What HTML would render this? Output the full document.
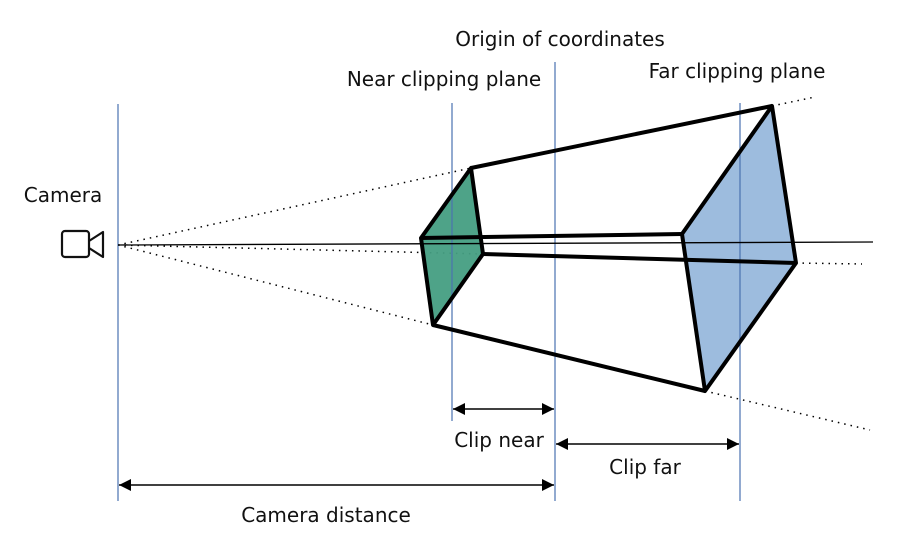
<!DOCTYPE html>
<html><head><meta charset="utf-8"><style>
html,body{margin:0;padding:0;background:#fff;}
svg{display:block;}
text{font-family:"DejaVu Sans","Liberation Sans",sans-serif;font-size:20px;fill:#111;}
</style></head><body>
<svg width="917" height="540" viewBox="0 0 917 540">
<defs>
<marker id="ah" viewBox="0 0 10 10" refX="10" refY="5" markerWidth="12" markerHeight="12" markerUnits="userSpaceOnUse" orient="auto-start-reverse"><path d="M0,0 L10,5 L0,10 z" fill="#000"/></marker>
</defs>
<g stroke="#000" stroke-width="1.5" stroke-dasharray="1.5 5" fill="none">
<line x1="118" y1="245" x2="471" y2="168"/>
<line x1="772" y1="106" x2="815" y2="97"/>
<line x1="118" y1="245" x2="483" y2="254"/>
<line x1="796" y1="263" x2="862" y2="264"/>
<line x1="118" y1="245" x2="433" y2="325"/>
<line x1="705" y1="391" x2="870" y2="430"/>
</g>
<polygon points="421,238 471,168 483,254 433,325" fill="#459e82" fill-opacity="0.95"/>
<polygon points="682,234 772,106 796,263 705,391" fill="#98b8dc" fill-opacity="0.95"/>
<g stroke="#4a72b0" stroke-width="1.2">
<line x1="118" y1="104" x2="118" y2="501"/>
<line x1="452" y1="103" x2="452" y2="421"/>
<line x1="555" y1="62" x2="555" y2="501"/>
<line x1="740" y1="103" x2="740" y2="501"/>
</g>
<line x1="118" y1="245" x2="873" y2="242" stroke="#000" stroke-width="1.3"/>
<g stroke="#000" stroke-width="4" stroke-linejoin="round" fill="none">
<polygon points="421,238 471,168 483,254 433,325"/>
<polygon points="682,234 772,106 796,263 705,391"/>
<line x1="471" y1="168" x2="772" y2="106"/>
<line x1="421" y1="238" x2="682" y2="234"/>
<line x1="483" y1="254" x2="796" y2="263"/>
<line x1="433" y1="325" x2="705" y2="391"/>
</g>
<g stroke="#111" stroke-width="2.2" fill="none" stroke-linejoin="round">
<rect x="62" y="231" width="27" height="26" rx="3"/>
<path d="M89,241 L103,232 L103,257 L89,248"/>
</g>
<g stroke="#000" stroke-width="1.5">
<line x1="453" y1="409" x2="554" y2="409" marker-start="url(#ah)" marker-end="url(#ah)"/>
<line x1="556" y1="444" x2="739" y2="444" marker-start="url(#ah)" marker-end="url(#ah)"/>
<line x1="119" y1="485" x2="554" y2="485" marker-start="url(#ah)" marker-end="url(#ah)"/>
</g>
<text x="560" y="46" text-anchor="middle">Origin of coordinates</text>
<text x="444" y="86" text-anchor="middle">Near clipping plane</text>
<text x="737" y="78" text-anchor="middle">Far clipping plane</text>
<text x="63" y="202" text-anchor="middle">Camera</text>
<text x="499" y="447" text-anchor="middle">Clip near</text>
<text x="645" y="474" text-anchor="middle">Clip far</text>
<text x="326" y="522" text-anchor="middle">Camera distance</text>
</svg>
</body></html>
